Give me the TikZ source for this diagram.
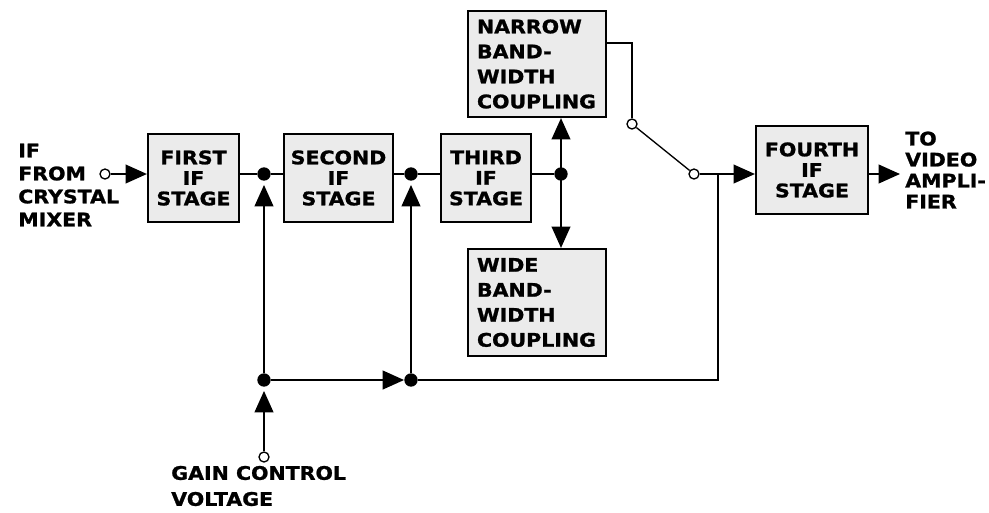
\documentclass[tikz,border=0pt]{standalone}
\usepackage{fontspec}
\setmainfont{DejaVu Sans}[FakeStretch=1.1,BoldFeatures={FakeBold=1.2}]
\usetikzlibrary{arrows.meta,calc}
\begin{document}
\begin{tikzpicture}[x=0.75pt,y=-0.75pt,
  >={Triangle[length=16pt,width=14pt]},
  blk/.style={draw,line width=1.6pt,fill=black!8,inner sep=0pt,align=center,
    font=\bfseries\fontsize{14}{15.4}\selectfont},
  cpl/.style={blk,align=left,inner xsep=6.75pt,text width=90pt,
    font=\bfseries\fontsize{14}{18.75}\selectfont},
  wire/.style={line width=1.4pt},
  dot/.style={circle,fill,inner sep=0pt,minimum size=10pt},
  port/.style={circle,draw,fill=white,line width=1pt,inner sep=0pt,minimum size=7.5pt},
  lbl/.style={inner sep=0pt,align=left,anchor=west,
    font=\bfseries\fontsize{14}{17.25}\selectfont}]
\useasboundingbox (0,0) rectangle (989,512);
% blocks
\node[blk,minimum width=68.25pt,minimum height=66pt] (first) at (193.5,178) {FIRST\\IF\\STAGE};
\node[blk,minimum width=81.75pt,minimum height=66pt] (second) at (338.5,178) {SECOND\\IF\\STAGE};
\node[blk,minimum width=67.5pt,minimum height=66pt] (third) at (486,178) {THIRD\\IF\\STAGE};
\node[cpl,minimum height=79.5pt] (narrow) at (537,64) {NARROW\\BAND-\\WIDTH\\COUPLING};
\node[cpl,minimum height=80.25pt] (wide) at (537,302.5) {WIDE\\BAND-\\WIDTH\\COUPLING};
\node[blk,minimum width=84pt,minimum height=66pt] (fourth) at (812,170) {FOURTH\\IF\\STAGE};
% junctions and ports
\node[port] (inp) at (105,174) {};
\node[dot] (j1) at (264,174) {};
\node[dot] (j2) at (411,174) {};
\node[dot] (j3) at (561,174) {};
\node[dot] (lj1) at (264,380) {};
\node[dot] (lj2) at (411,380) {};
\node[port] (gc) at (264,457) {};
\node[port] (sw1) at (632,124) {};
\node[port] (sw2) at (694,174) {};
\coordinate (nk) at (632,43);
\coordinate (j4) at (718,174);
\coordinate (lr) at (718,380);
\coordinate (outt) at (900,174);
% connectors
\draw[wire,->] (inp) -- (inp -| first.west);
\draw[wire] (first.east |- j1) -- (j1) -- (second.west |- j1);
\draw[wire] (second.east |- j2) -- (j2) -- (third.west |- j2);
\draw[wire] (third.east |- j3) -- (j3);
\draw[wire,<->] (narrow.south -| j3) -- (wide.north -| j3);
\draw[wire,->,shorten >=3pt] (lj1) -- (j1);
\draw[wire,->,shorten >=3pt] (lj2) -- (j2);
\draw[wire,->] (lj1) -- (lj2);
\draw[wire] (lj2) -- (lr) -- (j4);
\draw[wire,->,shorten >=3pt] (gc) -- (lj1);
\draw[wire] (narrow.east |- nk) -- (nk) -- (sw1);
\draw[line width=1pt] (sw1) -- (sw2);
\draw[wire] (sw2) -- (j4);
\draw[wire,->] (j4) -- (fourth.west |- j4);
\draw[wire,->] (fourth.east |- j4) -- (outt);
% labels
\node[lbl] (inlbl) at (18,185) {IF\\FROM\\CRYSTAL\\MIXER};
\node[lbl,font=\bfseries\fontsize{14}{15.75}\selectfont] (outlbl) at (905,170) {TO\\VIDEO\\AMPLI-\\FIER};
\node[lbl,font=\bfseries\fontsize{14}{19.5}\selectfont] (gainlbl) at (171,486) {GAIN CONTROL\\VOLTAGE};
\end{tikzpicture}
\end{document}
